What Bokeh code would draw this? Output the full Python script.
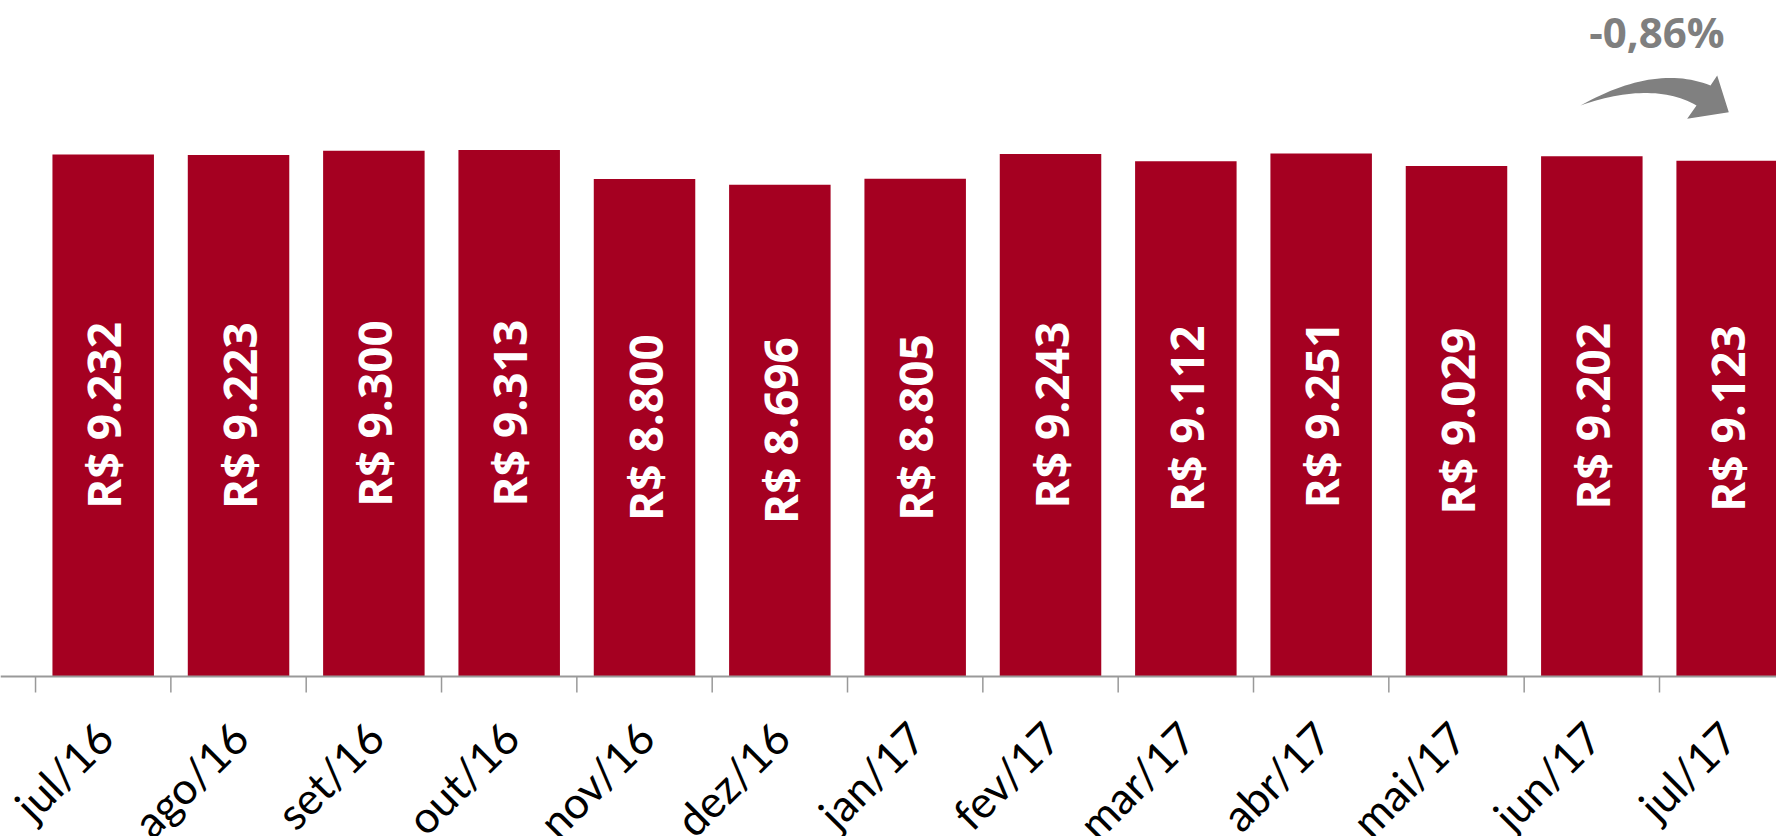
import math
import numpy as np
from bokeh.plotting import figure
from bokeh.models import Range1d, ColumnDataSource, Span
from bokeh.core.properties import value
from bokeh.embed import file_html
from bokeh.resources import INLINE

# ---- data ----
months = ["jul/16", "ago/16", "set/16", "out/16", "nov/16", "dez/16", "jan/17",
          "fev/17", "mar/17", "abr/17", "mai/17", "jun/17", "jul/17"]
values = [9232, 9223, 9300, 9313, 8800, 8696, 8805, 9243, 9112, 9251, 9029, 9202, 9123]
change_label = "-0,86%"

labels = ["R$ " + f"{v:,}".replace(",", ".") for v in values]
xs = list(range(len(months)))

# ---- layout mapping (page pixels -> data) ----
CAT_PX = 135.33      # pixels per category
X0_PX = 102.7        # centre of first category
AXIS_PX = 676.0      # baseline
UNITS_PER_PX = 17.686

def px2x(X):
    return (X - X0_PX) / CAT_PX

def py2y(Y):
    return (AXIS_PX - Y) * UNITS_PER_PX

W, H = 1776, 836
p = figure(width=W, height=H, output_backend="svg", toolbar_location=None,
           x_range=Range1d(px2x(0), px2x(W)), y_range=Range1d(py2y(H), py2y(0)),
           min_border=0)
p.outline_line_color = None
p.grid.visible = False
p.axis.visible = False
p.background_fill_color = "white"
p.border_fill_color = "white"

src = ColumnDataSource(dict(x=xs, top=values, half=[v / 2 for v in values], lab=labels))
p.vbar(x="x", top="top", bottom=0, width=0.75, source=src,
       fill_color="#A50021", line_color=None)
p.text(x="x", y="half", text="lab", source=src, angle=math.pi / 2,
       text_align="center", text_baseline="middle", text_color="white",
       text_font=value("Open Sans"), text_font_style="bold", text_font_size="46px")

# category axis: baseline, boundary ticks, rotated labels
bounds = [i - 0.5 for i in range(len(months) + 1)]
p.segment(x0=bounds, x1=bounds, y0=[0] * len(bounds), y1=[py2y(AXIS_PX + 16)] * len(bounds),
          line_color="#999999", line_width=1.5)
p.add_layout(Span(location=0, dimension="width", line_color="#999999", line_width=2))

cat_src = ColumnDataSource(dict(x=[i + (104 - X0_PX) / CAT_PX for i in xs],
                                y=[py2y(729)] * len(xs), t=months))
p.text(x="x", y="y", text="t", source=cat_src, angle=math.pi / 4,
       text_align="right", text_baseline="alphabetic",
       text_font=value("Lato"), text_font_size="44px", text_color="black")

# change annotation
p.text(x=[px2x(1656.5)], y=[py2y(31)], text=[change_label],
       text_align="center", text_baseline="middle", text_color="#7F7F7F",
       text_font=value("Open Sans"), text_font_style="bold", text_font_size="42px")

def bez(p0, p1, p2, n=30):
    t = np.linspace(0, 1, n)[:, None]
    return (1 - t) ** 2 * np.array(p0) + 2 * (1 - t) * t * np.array(p1) + t ** 2 * np.array(p2)

upper = bez((1580, 105), (1655, 63), (1710, 85))
lower = bez((1580, 105), (1652, 80), (1696, 105))[::-1]
head = np.array([(1716.7, 75), (1728.3, 111.7), (1686.7, 118.3)])
shape = np.vstack([upper, head, lower])
p.patch([px2x(X) for X in shape[:, 0]], [py2y(Y) for Y in shape[:, 1]],
        fill_color="#808080", line_color=None)

open("out.html", "w").write(file_html(p, INLINE))
